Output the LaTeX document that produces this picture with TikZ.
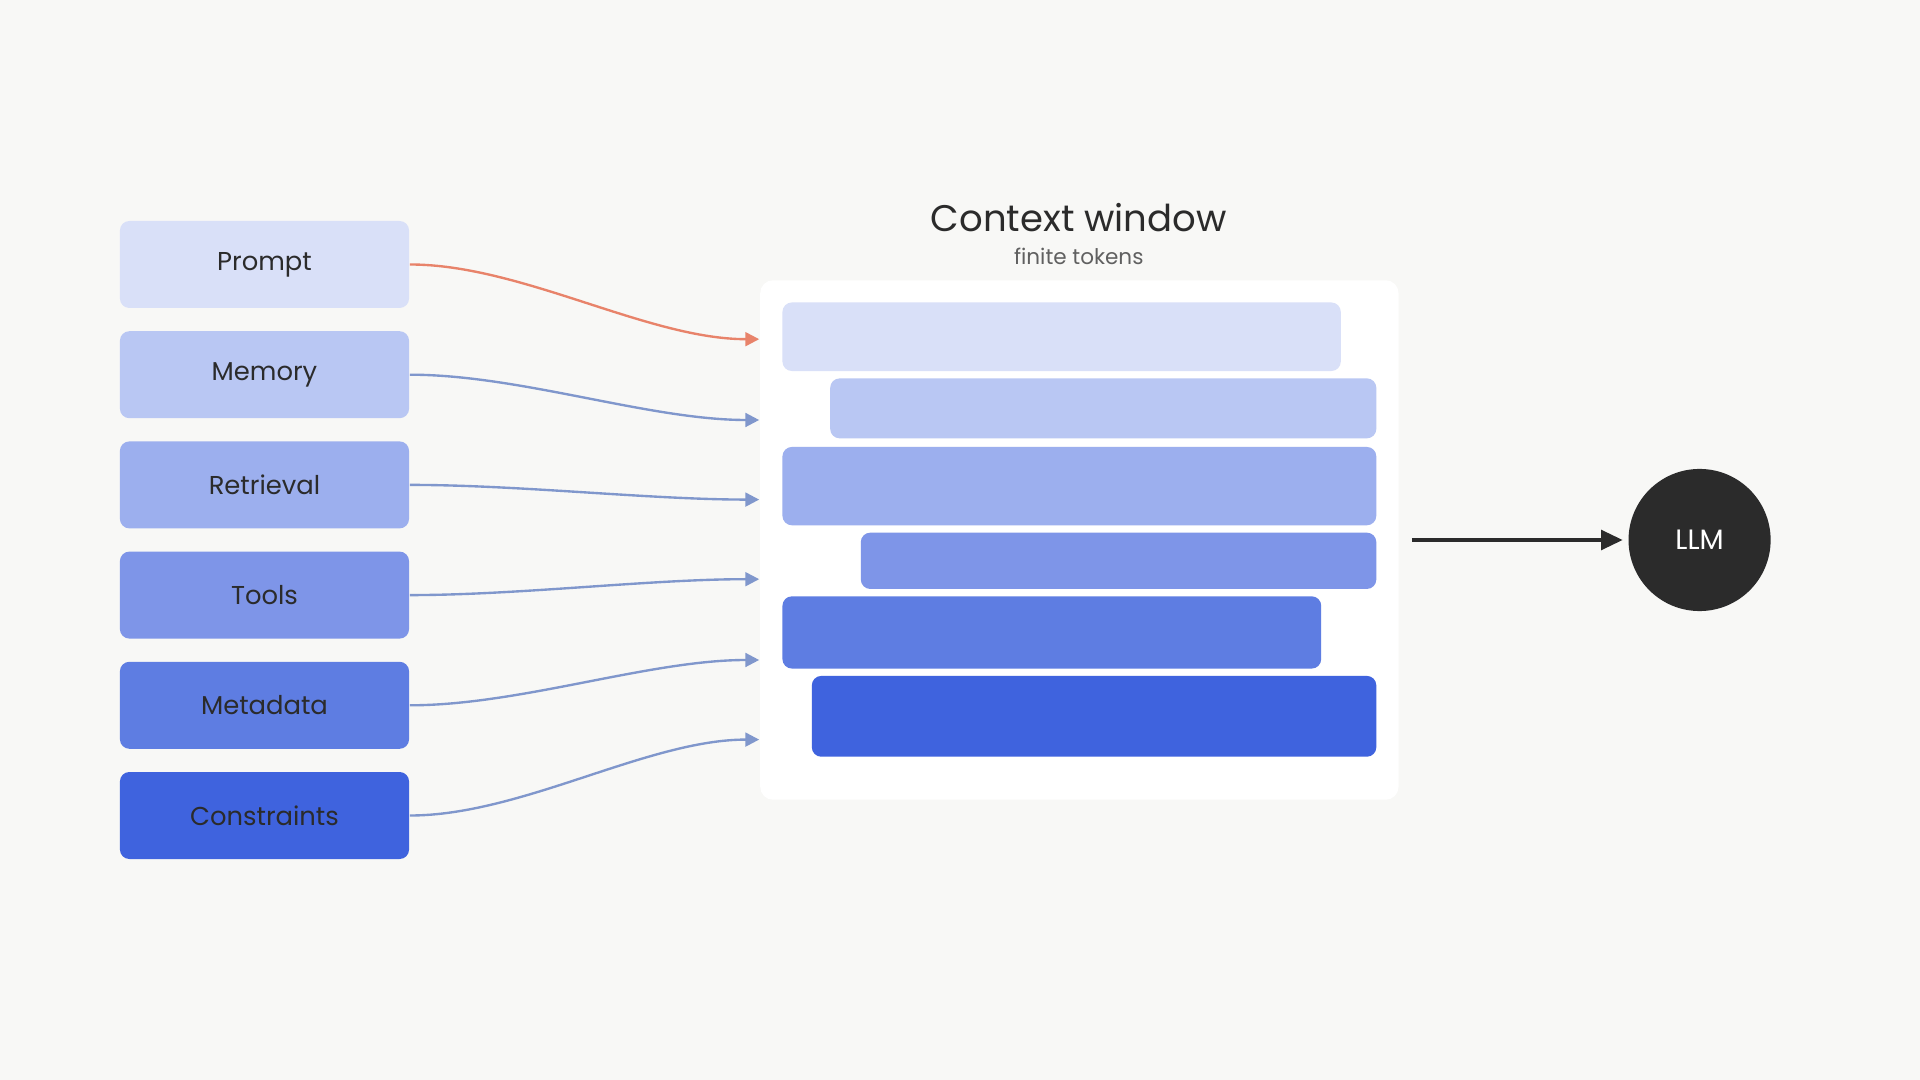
\documentclass[tikz,border=0pt]{standalone}
\usepackage{fontspec}
\setmainfont{Poppins}
\usetikzlibrary{arrows.meta,positioning}
\definecolor{bgc}{HTML}{F8F8F6}
\definecolor{cA}{HTML}{D9E0F8}
\definecolor{cB}{HTML}{B9C7F3}
\definecolor{cC}{HTML}{9CAFEE}
\definecolor{cD}{HTML}{7E95E8}
\definecolor{cE}{HTML}{5E7DE2}
\definecolor{cF}{HTML}{3F63DE}
\definecolor{feed}{HTML}{8097CC}
\definecolor{hot}{HTML}{E8836A}
\definecolor{ink}{HTML}{2B2B2B}
\tikzset{
  src/.style={rounded corners=2.2pt, minimum width=2.36cm, minimum height=0.71cm, inner sep=0pt, font=\fontsize{6}{7}\selectfont, text=ink},
  bar/.style={rounded corners=2.2pt},
  feedline/.style={draw=feed, line width=0.55pt, -{Triangle[length=3.2pt,width=3.2pt]}, out=0, in=180, looseness=0.8}
}
\begin{document}
\begin{tikzpicture}[x=0.01cm, y=-0.01cm]
  \fill[bgc] (0,0) rectangle (1568,882);
  \useasboundingbox (0,0) rectangle (1568,882);
  % sources
  \foreach \name/\txt/\col/\yy/\ey in {p/Prompt/cA/216/277, m/Memory/cB/306/343, r/Retrieval/cC/396/408, t/Tools/cD/486/473, d/Metadata/cE/576/539, c/Constraints/cF/666/604}{
    \node[src, fill=\col] (\name) at (216,\yy) {\txt};
    \coordinate (\name-in) at (620,\ey);
  }
  % context window
  \node[fill=white, rounded corners=3pt, minimum width=5.21cm, minimum height=4.24cm] (win) at (881.5,441) {};
  \node[font=\fontsize{8.6}{10}\selectfont, text=ink] (title) at (881,178) {Context window};
  \node[font=\fontsize{5}{6}\selectfont, text=ink!75] (sub) at (881,209) {finite tokens};
  \fill[bar, cA] (639,247) rectangle (1095,303);
  \fill[bar, cB] (678,309) rectangle (1124,358);
  \fill[bar, cC] (639,365) rectangle (1124,429);
  \fill[bar, cD] (703,435) rectangle (1124,481);
  \fill[bar, cE] (639,487) rectangle (1079,546);
  \fill[bar, cF] (663,552) rectangle (1124,618);
  % feeds
  \draw[feedline, draw=hot] (p.east) to (p-in);
  \foreach \name in {m,r,t,d,c}
    \draw[feedline] (\name.east) to (\name-in);
  % model
  \node[circle, fill=ink, minimum size=1.16cm, text=white, font=\fontsize{6.5}{8}\selectfont] (llm) at (1388,441) {LLM};
  \coordinate (out) at (1153,441);
  \draw[ink, line width=0.9pt, -{Triangle[length=5pt,width=4.5pt]}] (out) -- ([xshift=-0.04cm]llm.west);
\end{tikzpicture}
\end{document}
